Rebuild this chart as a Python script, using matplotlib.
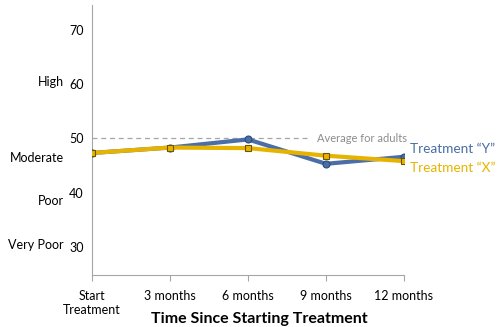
import matplotlib.pyplot as plt

plt.rcParams["font.family"] = ["Lato", "DejaVu Sans"]
plt.rcParams["font.size"] = 9

# time points and scores for the two treatments
timepoints = ["Start\nTreatment", "3 months", "6 months", "9 months", "12 months"]
treatment_y = [47.3, 48.3, 49.8, 45.3, 46.6]
treatment_x = [47.3, 48.3, 48.2, 46.8, 45.8]

score_ticks = [30, 40, 50, 60, 70]
rating_labels = ["Very Poor", "Poor", "Moderate", "High"]
rating_levels = [30.3, 38.4, 46.3, 60.3]
adult_average = 50

blue = "#4a6ea5"
gold = "#e6b400"

fig = plt.figure(figsize=(5.0, 3.27), dpi=100)
ax = fig.add_axes([0.184, 0.159, 0.624, 0.826])

x = range(len(timepoints))
ax.plot([0, 2.8], [adult_average] * 2, color="#a6a6a6", lw=0.9,
        ls=(0, (4, 3)), zorder=1)
ax.text(2.88, adult_average, "Average for adults", color="#8c8c8c",
        fontsize=8, va="center", ha="left")

ax.plot(x, treatment_y, color=blue, lw=3, marker="o", ms=5,
        mfc=blue, mec="#2a4a7a", mew=0.8, zorder=3)
ax.plot(x, treatment_x, color=gold, lw=3, marker="s", ms=5,
        mfc=gold, mec="#6e5500", mew=0.8, zorder=4)

ax.text(4.08, 48.0, "Treatment \u201cY\u201d", color=blue,
        fontsize=9.8, va="center", ha="left", clip_on=False)
ax.text(4.08, 44.5, "Treatment \u201cX\u201d", color=gold,
        fontsize=9.8, va="center", ha="left", clip_on=False)

ax.set_xlim(0, 4)
ax.set_ylim(24.8, 74.6)
ax.set_xticks(list(x))
ax.set_xticklabels(timepoints, fontsize=9)
ax.set_yticks(score_ticks)
ax.set_yticklabels([str(t) for t in score_ticks], fontsize=9)
ax.tick_params(axis="y", length=0, pad=6)
ax.tick_params(axis="x", length=4, color="#a6a6a6", pad=7)

for level, label in zip(rating_levels, rating_labels):
    ax.text(-0.36, level, label, fontsize=9, ha="right", va="center",
            clip_on=False)

for side in ["top", "right"]:
    ax.spines[side].set_visible(False)
for side in ["left", "bottom"]:
    ax.spines[side].set_color("#a6a6a6")

fig.text(0.518, 0.003, "Time Since Starting Treatment", fontsize=11.5,
         fontweight="bold", ha="center", va="bottom")

fig.savefig("out.png", dpi=100)
